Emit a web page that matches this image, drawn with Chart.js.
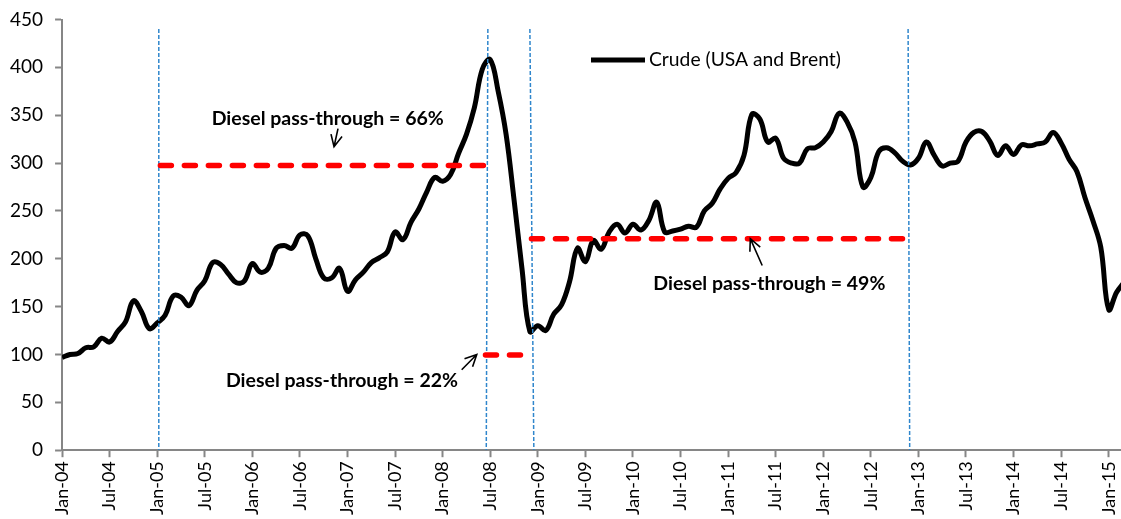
<!DOCTYPE html>
<html>
<head>
<meta charset="utf-8">
<title>Crude (USA and Brent)</title>
<script src="https://cdn.jsdelivr.net/npm/chart.js"></script>
<style>
  html, body { margin: 0; padding: 0; background: #fff; }
  #chart-box { position: relative; width: 1121px; height: 519px; }
</style>
</head>
<body>
<div id="chart-box"><canvas id="myChart"></canvas></div>
<script>
// crude index, one value per month, index 0 = Jan-04 ... index 134 = Mar-15
var crude = [
  97, 100, 101, 107, 108, 117, 113, 124, 134, 156, 145, 127,   // 2004
  133, 141, 161, 160, 151, 167, 177, 196, 194, 184, 175, 177,  // 2005
  195, 186, 190, 211, 214, 211, 225, 224, 200, 180, 180, 190,  // 2006
  166, 178, 186, 196, 201, 207, 228, 220, 238, 252, 270, 285,  // 2007
  281, 288, 310, 330, 358, 398, 408, 375, 330, 262, 190, 124,  // 2008
  130, 125, 142, 152, 176, 211, 197, 219, 210, 228, 236, 227,  // 2009
  236, 230, 240, 259, 228, 229, 231, 234, 233, 250, 258, 273,  // 2010
  284, 290, 308, 351, 346, 322, 326, 305, 300, 300, 315, 316,  // 2011
  322, 333, 352, 343, 322, 275, 285, 312, 316, 311, 302, 298,  // 2012
  305, 322, 308, 297, 300, 302, 322, 332, 333, 323, 308, 318,  // 2013
  309, 319, 318, 320, 322, 332, 321, 304, 291, 264, 240, 212,  // 2014
  147, 165, 176                                                // 2015
];

// x axis labels, one every 6 months
var tickLabels = [
  'Jan-04', 'Jul-04', 'Jan-05', 'Jul-05', 'Jan-06', 'Jul-06', 'Jan-07', 'Jul-07',
  'Jan-08', 'Jul-08', 'Jan-09', 'Jul-09', 'Jan-10', 'Jul-10', 'Jan-11', 'Jul-11',
  'Jan-12', 'Jul-12', 'Jan-13', 'Jul-13', 'Jan-14', 'Jul-14', 'Jan-15'
];

// diesel pass-through periods (month index from / to, level)
var passStart = [12.4, 53.4, 59.2];
var passEnd = [53.4, 58.2, 107.1];
var passLevel = [297.5, 99.5, 221];
var passText = ['Diesel pass-through = 66%', 'Diesel pass-through = 22%', 'Diesel pass-through = 49%'];

// blue dashed period markers (month at top / month at bottom)
var markTop = [12.2, 53.7, 59.0, 106.7];
var markBottom = [12.2, 53.5, 59.5, 106.9];
var markHeight = 440;

// where the labels and the little arrows sit (month, value)
var notes = [
  { text: passText[0], x: 33.5, y: 346, arrow: [34.8, 336, 34.3, 317] },
  { text: passText[1], x: 35.3, y: 72.5, arrow: [50.4, 84, 52.3, 100] },
  { text: passText[2], x: 89.2, y: 174, arrow: [88.3, 193, 86.8, 221] }
];

Chart.defaults.font.family = 'Lato, "Noto Sans", sans-serif';
Chart.defaults.color = '#000';

function drawArrow(ctx, x1, y1, x2, y2) {
  var ang = Math.atan2(y2 - y1, x2 - x1);
  var len = 13;
  ctx.beginPath();
  ctx.moveTo(x1, y1);
  ctx.lineTo(x2, y2);
  ctx.moveTo(x2 - len * Math.cos(ang - 0.45), y2 - len * Math.sin(ang - 0.45));
  ctx.lineTo(x2, y2);
  ctx.lineTo(x2 - len * Math.cos(ang + 0.45), y2 - len * Math.sin(ang + 0.45));
  ctx.stroke();
}

// text notes, arrows and the legend
var notePlugin = {
  id: 'notes',
  afterDatasetsDraw: function (chart) {
    var ctx = chart.ctx;
    var xs = chart.scales.x;
    var ys = chart.scales.y;
    ctx.save();
    ctx.fillStyle = '#000';
    ctx.strokeStyle = '#000';
    ctx.lineWidth = 1.6;
    ctx.font = 'bold 19.5px Lato, "Noto Sans", sans-serif';
    ctx.textAlign = 'center';
    ctx.textBaseline = 'middle';
    notes.forEach(function (n) {
      ctx.fillText(n.text, xs.getPixelForValue(n.x), ys.getPixelForValue(n.y));
      var a = n.arrow;
      drawArrow(ctx, xs.getPixelForValue(a[0]), ys.getPixelForValue(a[1]),
        xs.getPixelForValue(a[2]), ys.getPixelForValue(a[3]));
    });

    // legend
    var ds = chart.data.datasets[0];
    ctx.lineWidth = 5;
    ctx.beginPath();
    ctx.moveTo(591, 60);
    ctx.lineTo(645, 60);
    ctx.stroke();
    ctx.font = '19.3px Lato, "Noto Sans", sans-serif';
    ctx.textAlign = 'left';
    ctx.fillText(ds.label, 649, 60);
    ctx.restore();
  }
};

var datasets = [{
  label: 'Crude (USA and Brent)',
  data: crude.map(function (v, i) { return { x: i, y: v }; }),
  borderColor: '#000',
  borderWidth: 5,
  borderJoinStyle: 'round',
  tension: 0.4,
  pointRadius: 0,
  order: 2
}];
for (var i = 0; i < passLevel.length; i++) {
  datasets.push({
    label: passText[i],
    data: [{ x: passStart[i], y: passLevel[i] }, { x: passEnd[i], y: passLevel[i] }],
    borderColor: '#ff0000',
    borderWidth: 5.5,
    borderDash: [11, 13],
    borderCapStyle: 'round',
    pointRadius: 0,
    order: 0
  });
}
for (i = 0; i < markTop.length; i++) {
  datasets.push({
    label: 'marker',
    data: [{ x: markTop[i], y: markHeight }, { x: markBottom[i], y: 0 }],
    borderColor: '#2f86cc',
    borderWidth: 1.5,
    borderDash: [4, 2],
    pointRadius: 0,
    order: 1
  });
}

var chart = new Chart(document.getElementById('myChart'), {
  type: 'line',
  data: { datasets: datasets },
  options: {
    responsive: true,
    maintainAspectRatio: false,
    animation: false,
    layout: { padding: { left: -2, top: 19.5, right: 0, bottom: 0 } },
    plugins: {
      legend: { display: false },
      tooltip: { enabled: false }
    },
    scales: {
      x: {
        type: 'linear',
        min: 0,
        max: 133.55,
        afterFit: function (scale) {
          // no extra room for the first / last rotated label
          scale.paddingLeft = 0;
          scale.paddingRight = 0;
        },
        grid: { drawOnChartArea: false, tickLength: 7, tickColor: '#868686', tickWidth: 2 },
        border: { color: '#868686', width: 2 },
        ticks: {
          stepSize: 6,
          includeBounds: false,
          autoSkip: false,
          maxRotation: 90,
          minRotation: 90,
          padding: 4,
          font: { size: 18 },
          callback: function (v) { return tickLabels[Math.round(v / 6)]; }
        }
      },
      y: {
        min: 0,
        max: 450,
        afterFit: function (scale) {
          // top of the plot is set by layout padding only
          scale.paddingTop = 0;
          scale.paddingBottom = 0;
        },
        grid: { drawOnChartArea: false, tickLength: 7, tickColor: '#868686', tickWidth: 2 },
        border: { color: '#868686', width: 2 },
        ticks: { stepSize: 50, padding: 12, font: { size: 19 } }
      }
    }
  },
  plugins: [notePlugin]
});
</script>
</body>
</html>
